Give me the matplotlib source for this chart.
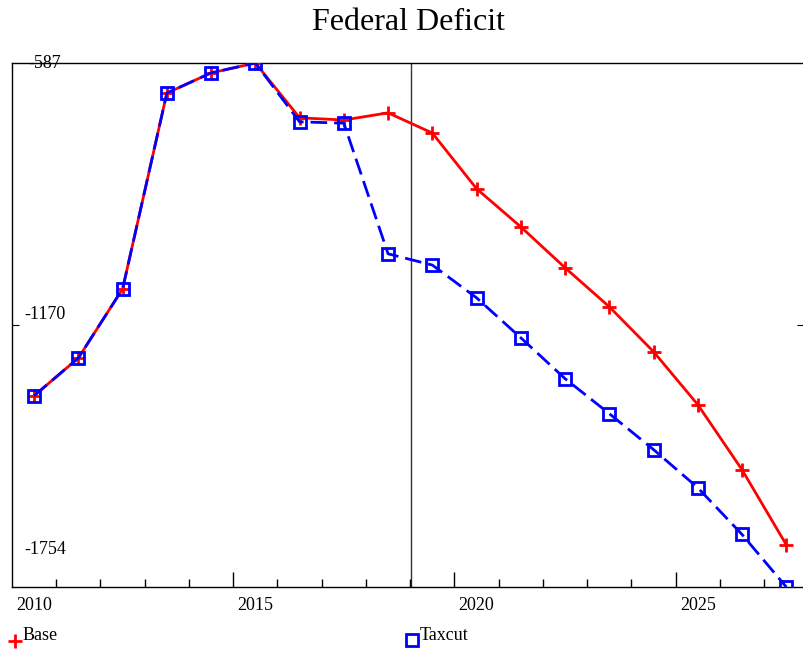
import matplotlib.pyplot as plt
from matplotlib.lines import Line2D

# ================================
# Data
# ================================
years = list(range(2010, 2028))
base = [-1328, -1244, -1090, -654, -609, -587, -709, -714, -698,
        -743, -867, -952, -1043, -1130, -1230, -1348, -1493, -1660]
taxcut = [-1328, -1244, -1090, -654, -609, -587, -718, -721, -1012,
          -1037, -1110, -1199, -1290, -1368, -1448, -1533, -1637, -1754]
ytick_vals = [-587, -1170, -1754]
xlabel_years = [2010, 2015, 2020, 2025]
split_year = 2019

plt.rcParams["font.family"] = ["Liberation Serif", "DejaVu Serif"]

fig = plt.figure(figsize=(8.04, 6.51), dpi=100)
ax = fig.add_axes([12 / 804, 64 / 651, 1 - 12 / 804, 524 / 651])

# points sit in the middle of each year
xs = [y + 0.5 for y in years]
ax.plot(xs, base, color="red", lw=2, marker="+", ms=10, mew=2, zorder=3)
ax.plot(xs, taxcut, color="blue", lw=2, ls=(0, (6, 2.5)), marker="s", ms=8,
        mfc="none", mec="blue", mew=2, zorder=4)

ax.axvline(split_year + 0.02, color="#333333", lw=1, zorder=1)

ax.set_xlim(2010, 2027.9)
ax.set_ylim(-1754, -587)

# ticks
ax.set_xticks([2015, 2020, 2025])
ax.set_xticks([y for y in range(2011, 2028) if y % 5], minor=True)
ax.tick_params(axis="x", which="major", direction="in", length=11, width=1,
               labelbottom=False)
ax.tick_params(axis="x", which="minor", direction="in", length=6, width=1)
ax.set_yticks([-1170])
ax.tick_params(axis="y", direction="in", length=5, width=0.8, labelleft=False,
               right=True)

ax.spines["right"].set_visible(False)
for s in ["left", "top", "bottom"]:
    ax.spines[s].set_linewidth(1)

# labels drawn as text like the original
for y in xlabel_years:
    ax.annotate(str(y), (y + 0.5, -1754), xytext=(0, -19), textcoords="offset pixels",
                ha="center", va="center", fontsize=13, annotation_clip=False)

offsets = {-587: 0, -1170: 10, -1754: 37}
for v in ytick_vals:
    ax.annotate(str(v), (2010, v), xytext=(33, offsets[v]), textcoords="offset pixels",
                ha="center", va="center", fontsize=13, annotation_clip=False)

fig.text(0.508, 1 - 23 / 651, "Federal Deficit", ha="center", va="center", fontsize=23)

# legend
fig.add_artist(Line2D([15 / 804], [1 - 641 / 651], transform=fig.transFigure,
                      color="red", marker="+", ms=10, mew=2, ls="none"))
fig.text(23 / 804, 1 - 636 / 651, "Base", ha="left", va="center", fontsize=13)
fig.add_artist(Line2D([412 / 804], [1 - 640 / 651], transform=fig.transFigure,
                      color="blue", marker="s", ms=8, mfc="none", mew=2, ls="none"))
fig.text(420 / 804, 1 - 636 / 651, "Taxcut", ha="left", va="center", fontsize=13)

fig.savefig("out.png", dpi=100)
